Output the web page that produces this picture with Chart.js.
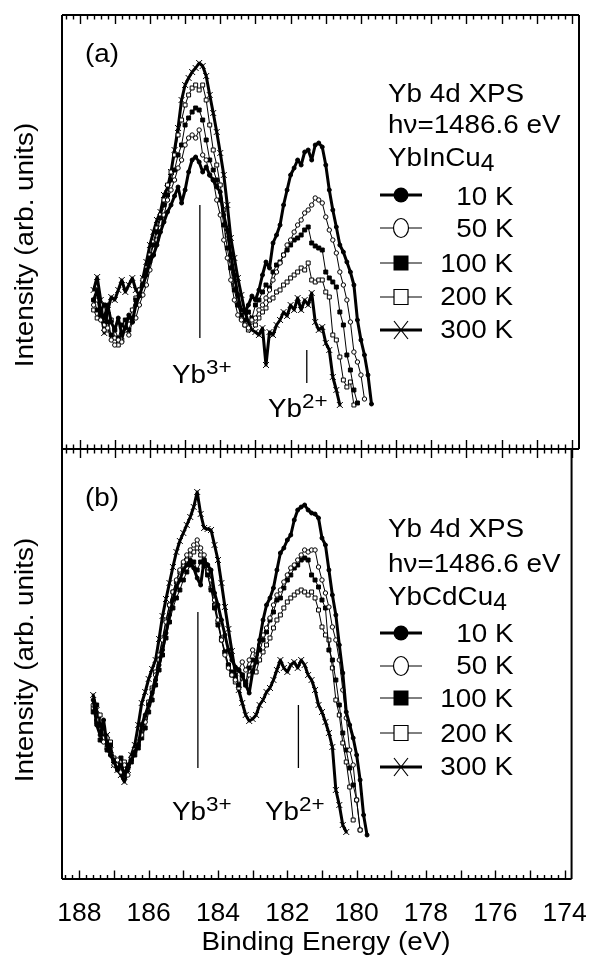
<!DOCTYPE html>
<html><head><meta charset="utf-8">
<script src="https://cdn.jsdelivr.net/npm/chart.js@4.4.0/dist/chart.umd.min.js"></script>
<style>
html,body{margin:0;padding:0;background:#fff;}
#wrap{position:relative;width:598px;height:956px;overflow:hidden;font-family:"Liberation Sans",Arial,Helvetica,sans-serif;color:#000;}
canvas{position:absolute;left:0;top:0;}
.t{position:absolute;font-size:26px;line-height:26px;white-space:nowrap;}
.t sup{font-size:21px;line-height:0;vertical-align:0;position:relative;top:-9px;}
.t sub{font-size:23px;line-height:0;vertical-align:0;position:relative;top:5px;}
</style></head><body>
<div id="wrap">
<canvas id="chartA" width="598" height="956"></canvas>
<canvas id="chartB" width="598" height="956"></canvas>
</div>
<script>
// ---------------- data ----------------
const energy = [187.6,187.5,187.4,187.3,187.2,187.1,187.0,186.9,186.8,186.7,
186.6,186.5,186.4,186.3,186.2,186.1,186.0,185.9,185.8,185.7,
185.6,185.5,185.4,185.3,185.2,185.1,185.0,184.9,184.8,184.7,
184.6,184.5,184.4,184.3,184.2,184.1,184.0,183.9,183.8,183.7,
183.6,183.5,183.4,183.3,183.2,183.1,183.0,182.9,182.8,182.7,
182.6,182.5,182.4,182.3,182.2,182.1,182.0,181.9,181.8,181.7,
181.6,181.5,181.4,181.3,181.2,181.1,181.0,180.9,180.8,180.7,
180.6,180.5,180.4,180.3,180.2,180.1,180.0,179.9,179.8,179.7];
const temps = ['10 K','50 K','100 K','200 K','300 K'];
const xTickLabels = [188,186,184,182,180,178,176,174];
const xTitle = 'Binding Energy (eV)';
const yTitle = 'Intensity (arb. units)';

// (a) YbInCu4
const a10 = [14.9,15.9,13.7,13.1,14.4,12.7,11.9,13.1,11.4,12.1,
13.4,12.7,14.4,15.3,16.4,17.4,18.7,19.4,20.4,21.7,
22.7,23.7,24.4,25.3,26.2,24.6,25.9,27.7,28.9,29.2,
28.7,27.7,28.2,27.4,26.9,26.2,25.7,23.4,21.9,19.4,
17.4,15.4,13.9,13.7,14.4,15.3,14.9,15.9,17.4,18.7,
18.1,20.6,21.4,22.4,24.4,25.9,27.4,28.1,28.9,28.4,
29.7,29.9,28.9,30.4,30.6,30.2,28.4,25.9,23.9,22.2,
20.4,19.7,18.7,17.7,16.4,12.9,10.9,9.4,7.4,4.5];
const a50 = [14.4,14.9,12.9,11.9,12.1,10.9,10.4,10.9,10.7,11.9,
11.4,12.7,13.1,14.4,15.4,16.4,17.9,19.4,20.9,22.1,
23.4,24.9,25.9,26.9,28.1,28.9,30.4,31.1,31.4,31.1,
31.9,29.4,28.9,27.4,26.9,24.9,23.4,20.9,19.1,16.9,
14.9,13.4,12.9,12.4,12.1,12.9,13.1,13.9,14.4,15.1,
15.9,16.9,17.7,18.6,19.4,20.4,20.9,21.7,22.4,22.9,
23.6,23.9,24.4,25.1,24.9,24.6,23.2,21.9,20.9,19.6,
17.7,16.4,14.9,12.7,9.7,8.7,7.4,5.0];
const a100 = [14.9,13.9,13.4,14.4,12.7,11.4,11.9,11.1,12.4,12.9,
11.9,13.1,14.9,15.4,16.4,17.9,19.1,20.4,21.7,23.1,
24.4,25.4,26.9,27.9,29.4,30.4,32.4,33.1,33.7,34.1,
33.9,32.9,30.9,28.9,27.9,26.9,24.9,22.4,20.1,18.1,
15.9,14.4,13.4,12.9,13.7,13.1,14.4,14.9,15.7,16.4,
16.1,17.7,18.4,18.7,19.4,19.9,20.4,20.9,21.1,21.4,
21.9,22.2,20.6,20.3,20.1,19.9,17.7,17.1,16.7,16.2,
13.7,12.4,9.4,7.9,5.9,4.6];
const a200 = [13.9,13.1,14.4,12.4,11.9,12.9,11.1,10.4,10.9,12.1,
12.9,13.9,15.1,15.9,16.9,18.1,19.4,20.7,22.1,23.4,
24.9,26.4,27.7,29.4,31.4,32.9,34.4,35.4,36.1,36.4,
35.9,36.4,34.9,32.4,29.9,28.4,26.4,23.9,21.4,18.9,
16.4,14.4,13.1,12.4,11.9,12.7,12.4,13.1,13.7,14.1,
14.9,15.1,15.7,15.9,16.4,16.7,17.1,17.4,17.7,18.1,
17.9,18.6,16.9,16.7,16.9,16.9,15.7,15.2,11.4,10.9,
9.2,6.9,6.2,6.7,4.4];
const a300 = [15.9,17.2,14.9,11.6,13.9,15.2,14.9,15.9,16.9,15.7,
16.4,17.1,15.9,15.4,17.1,18.7,20.4,21.7,22.9,23.7,
25.4,26.1,27.7,29.9,32.1,34.9,36.4,37.1,37.7,38.1,
38.6,38.3,37.3,35.4,33.6,31.7,29.6,27.4,24.4,21.1,
19.1,17.1,15.4,13.7,12.7,11.9,11.7,11.4,12.1,8.4,
11.7,11.4,12.4,12.9,13.7,13.3,14.4,13.9,15.1,13.9,
14.9,14.4,15.6,12.7,11.9,12.2,10.6,9.9,7.2,5.9,
4.4];

// (b) YbCdCu4
const b10 = [17.9,15.4,14.4,15.9,13.4,12.4,11.7,10.9,11.4,10.4,
11.1,11.9,12.7,13.4,15.4,16.4,17.4,18.6,19.9,21.4,
22.9,24.6,26.4,27.9,29.2,29.9,30.9,31.4,31.9,31.1,
30.1,29.4,31.9,31.4,30.9,28.6,27.4,25.9,24.4,22.9,
21.9,21.2,20.9,20.4,19.4,18.6,20.7,21.9,23.9,25.9,
27.4,28.1,29.1,30.9,32.6,33.1,33.9,34.4,35.9,36.9,
37.2,37.4,36.9,36.6,36.5,36.1,34.1,33.4,30.9,28.4,
26.4,23.4,20.6,16.7,15.4,14.1,12.4,9.9,6.4,4.4];
const b50 = [17.4,15.9,14.9,13.7,14.1,12.4,11.4,11.9,10.7,11.4,
10.4,11.9,12.7,13.4,14.4,15.7,17.4,18.9,20.4,21.9,
23.9,25.7,27.4,28.7,29.9,30.9,31.7,32.4,32.9,33.4,
33.9,33.1,32.4,31.4,29.9,27.9,25.9,23.9,22.4,21.1,
20.4,19.9,20.9,21.7,20.9,21.9,22.9,22.4,23.4,24.4,
25.1,26.1,27.4,28.4,28.9,29.7,30.4,31.1,31.4,31.9,
32.4,32.9,32.7,32.9,32.9,31.2,29.9,28.6,27.2,25.2,
23.9,21.9,18.9,16.1,12.9,11.4,7.9,4.9];
const b100 = [16.7,17.4,13.9,15.1,12.9,13.4,11.9,11.1,12.1,10.7,
11.4,11.7,12.4,13.1,14.1,15.1,16.7,17.9,19.4,20.9,
22.4,24.1,25.7,27.1,28.1,28.9,29.9,30.7,31.4,31.7,
30.9,31.7,31.3,30.4,28.9,27.1,25.4,23.9,22.7,21.4,
20.7,20.1,19.4,20.4,19.7,21.1,21.9,21.7,22.9,23.9,
24.7,25.9,26.7,27.9,28.1,29.1,29.9,30.4,31.1,31.4,
31.9,32.1,31.9,30.4,29.9,29.2,27.9,27.1,22.9,21.9,
19.9,17.4,14.6,12.9,11.1,9.4,7.9,4.9];
const b200 = [17.1,15.7,16.4,14.1,13.1,13.7,12.1,11.4,10.9,11.7,
11.1,12.1,12.9,13.7,14.7,16.1,17.7,19.1,20.7,22.4,
24.1,25.9,27.4,28.7,29.7,30.7,31.4,31.9,32.4,32.7,
33.1,32.4,31.9,30.7,29.1,27.4,25.7,24.1,22.7,21.4,
20.4,19.7,19.1,20.1,19.4,20.4,21.1,20.7,21.9,22.7,
23.4,24.1,25.1,25.9,26.4,27.1,27.7,28.1,28.4,28.7,
28.9,28.7,28.4,28.7,28.1,26.9,25.2,24.4,23.9,21.1,
17.9,16.4,13.6,11.7,9.2,5.9];
const b300 = [18.4,16.9,15.4,13.9,14.4,12.9,11.4,10.9,10.4,9.7,
10.9,12.4,13.4,15.4,17.6,18.7,20.0,21.0,21.9,24.0,
26.3,28.0,29.6,31.2,32.7,33.8,34.6,35.4,36.2,37.2,
38.7,36.5,35.1,35.0,34.9,33.4,31.9,29.6,27.2,25.0,
22.8,20.6,18.9,17.6,16.4,15.8,16.0,16.4,17.4,17.9,
18.7,19.1,19.9,20.9,21.9,21.1,20.7,21.4,21.7,21.1,
21.9,21.4,20.4,19.9,18.9,17.4,16.7,15.7,14.6,13.2,
8.9,7.4,5.4,4.7];

// peak marker lines [energy, low, high]
const peakLinesA = [[184.58, 11.1, 24.4], [181.54, 6.6, 9.9]];
const peakLinesB = [[184.58, 11.1, 26.7], [181.68, 11.1, 17.4]];

// ---------------- styling ----------------
const FONT = '"Liberation Sans", Arial, Helvetica, sans-serif';
const seriesStyle = [
  {bw:3,   ps:'circle',   r:2,   fill:'#000'},
  {bw:1,   ps:'circle',   r:2.2, fill:'#fff'},
  {bw:1,   ps:'rect',     r:2.8, fill:'#000'},
  {bw:1,   ps:'rect',     r:2.8, fill:'#fff'},
  {bw:3,   ps:'crossRot', r:4.2, fill:'#000'}
];

function toPts(vals){ return vals.map((v,i)=>({x:energy[i], y:v})); }

function makeDatasets(series, peaks){
  const ds = series.map((vals,k)=>({
    label: temps[k],
    data: toPts(vals),
    borderColor:'#000', borderWidth: seriesStyle[k].bw,
    borderJoinStyle:'round', borderCapStyle:'round',
    pointStyle: seriesStyle[k].ps, pointRadius: seriesStyle[k].r,
    pointBackgroundColor: seriesStyle[k].fill, pointBorderColor:'#000', pointBorderWidth:1,
    pointHoverRadius: seriesStyle[k].r, tension:0, fill:false
  }));
  peaks.forEach(p=>ds.push({
    label:'peak', data:[{x:p[0],y:p[1]},{x:p[0],y:p[2]}],
    borderColor:'#000', borderWidth:1.3, pointRadius:0, fill:false
  }));
  return ds;
}

// frame + ticks + legend-symbol plugin
const framePlugin = {
  id:'frame',
  afterDraw(chart, args, o){
    const ctx = chart.ctx, ca = chart.chartArea, xs = chart.scales.x;
    ctx.save();
    ctx.strokeStyle = '#000';
    ctx.lineWidth = 2;
    ctx.beginPath();
    ctx.moveTo(ca.left, ca.top); ctx.lineTo(ca.left, ca.bottom);
    ctx.moveTo(ca.right, ca.top); ctx.lineTo(ca.right, ca.bottom);
    if (o.top) { ctx.moveTo(ca.left, ca.top); ctx.lineTo(ca.right, ca.top); }
    ctx.moveTo(ca.left, ca.bottom); ctx.lineTo(ca.right, ca.bottom);
    ctx.stroke();
    ctx.lineWidth = 1.4;
    ctx.beginPath();
    for (let i = 0; i <= 72; i++) {
      const v = 174 + i * 0.2;
      const major = (i % 5 === 0);
      const px = Math.round(xs.getPixelForValue(v)) + 0.5;
      const L = major ? 9 : 4.5;
      if (o.top) { ctx.moveTo(px, ca.top); ctx.lineTo(px, ca.top + L); }
      if (o.mid) { ctx.moveTo(px, ca.bottom - L); ctx.lineTo(px, ca.bottom + L); }
      if (o.bottom) { ctx.moveTo(px, ca.bottom); ctx.lineTo(px, ca.bottom - L + 0.5); }
    }
    ctx.stroke();
    const lg = o.legend;
    lg.rows.forEach((y,k)=>{
      const st = seriesStyle[k];
      ctx.lineWidth = st.bw;
      ctx.beginPath(); ctx.moveTo(lg.x1, y); ctx.lineTo(lg.x2, y); ctx.stroke();
      ctx.lineWidth = 1.2;
      const x = lg.xc;
      ctx.fillStyle = st.fill;
      ctx.beginPath();
      if (k === 0) { ctx.arc(x, y, 7.5, 0, 2*Math.PI); ctx.fill(); }
      else if (k === 1) { ctx.ellipse(x, y, 7.5, 9.5, 0, 0, 2*Math.PI); ctx.fill(); ctx.stroke(); }
      else if (k === 2) { ctx.rect(x-7.5, y-7.5, 15, 15); ctx.fill(); }
      else if (k === 3) { ctx.rect(x-7, y-7.5, 14, 15); ctx.fill(); ctx.stroke(); }
      else { ctx.moveTo(x-7, y-9); ctx.lineTo(x+7, y+9); ctx.moveTo(x-7, y+9); ctx.lineTo(x+7, y-9); ctx.stroke(); }
    });
    ctx.restore();
  }
};

function yScale(maxV){
  return { type:'linear', min:0, max:maxV, display:false };
}

function baseX(show){
  return {
    type:'linear', min:173.8, max:188.5, reverse:true, display:show,
    grid:{display:false}, border:{display:false},
    ticks:{display:show, color:'#000', font:{family:FONT, size:26.5}, padding:11, maxRotation:0, autoSkip:false},
    afterBuildTicks(s){ s.ticks = xTickLabels.map(v=>({value:v})); },
    title:{display:false},
    afterFit(s){ if (show) s.height = 77; }
  };
}

const common = { type:'line', plugins:[framePlugin] };

new Chart(document.getElementById('chartA'), {
  ...common,
  data:{datasets: makeDatasets([a10,a50,a100,a200,a300], peakLinesA)},
  options:{
    responsive:false, animation:false, events:[],
    layout:{padding:{top:15, bottom:507, left:62, right:19}},
    scales:{ x: baseX(false), y: yScale(43.4) },
    plugins:{ legend:{display:false}, tooltip:{enabled:false},
      frame:{top:true, mid:true, bottom:false, legend:{x1:380, x2:422, xc:401, rows:[195,228,263,297,330]}} }
  }
});

new Chart(document.getElementById('chartB'), {
  ...common,
  data:{datasets: makeDatasets([b10,b50,b100,b200,b300], peakLinesB)},
  options:{
    responsive:false, animation:false, events:[],
    layout:{padding:{top:449, bottom:0, left:62, right:19}},
    scales:{ x: baseX(true), y: yScale(43.0) },
    plugins:{ legend:{display:false}, tooltip:{enabled:false},
      frame:{top:false, mid:false, bottom:true, legend:{x1:380, x2:422, xc:401, rows:[633,666,698,733,767]}} }
  }
});

// ---------------- text overlays ----------------
const SX = 1.07;        // horizontal stretch of the original lettering
const FS = 26;          // font size
const texts = [
  ['(a)', 85, 62, 'l'],
  ['Yb 4d XPS', 388, 102, 'l'],
  ['h\u03bd=1486.6 eV', 388, 133, 'l'],
  ['YbInCu<sub>4</sub>', 388, 166, 'l'],
  ['10 K', 513, 205, 'r'], ['50 K', 513, 237, 'r'], ['100 K', 513, 272, 'r'],
  ['200 K', 513, 305, 'r'], ['300 K', 513, 338, 'r'],
  ['Yb<sup>3+</sup>', 172, 383, 'l'],
  ['Yb<sup>2+</sup>', 268, 417, 'l'],
  ['(b)', 85, 506, 'l'],
  ['Yb 4d XPS', 388, 537, 'l'],
  ['h\u03bd=1486.6 eV', 388, 572, 'l'],
  ['YbCdCu<sub>4</sub>', 388, 605, 'l'],
  ['10 K', 513, 642, 'r'], ['50 K', 513, 674, 'r'], ['100 K', 513, 707, 'r'],
  ['200 K', 513, 742, 'r'], ['300 K', 513, 775, 'r'],
  ['Yb<sup>3+</sup>', 172, 820, 'l'],
  ['Yb<sup>2+</sup>', 265, 820, 'l'],
  [xTitle, 326, 950, 'c']
];
const wrap = document.getElementById('wrap');
const BASE = 0.8465 * FS;
texts.forEach(([h,x,b,al])=>{
  const d = document.createElement('div');
  d.className = 't';
  d.innerHTML = h;
  d.style.top = (b - BASE) + 'px';
  if (al === 'l') { d.style.left = x + 'px'; d.style.transformOrigin = '0 0'; d.style.transform = 'scaleX(' + SX + ')'; }
  else if (al === 'r') { d.style.right = (598 - x) + 'px'; d.style.transformOrigin = '100% 0'; d.style.transform = 'scaleX(' + SX + ')'; }
  else { d.style.left = x + 'px'; d.style.transform = 'translateX(-50%) scaleX(' + SX + ')'; }
  wrap.appendChild(d);
});
// rotated y-axis titles: [centre x, centre y]
[[24, 245], [24, 660]].forEach(([cx, cy])=>{
  const d = document.createElement('div');
  d.className = 't';
  d.textContent = yTitle;
  d.style.left = cx + 'px';
  d.style.top = cy + 'px';
  d.style.transform = 'translate(-50%,-50%) rotate(-90deg) scaleX(' + SX + ')';
  wrap.appendChild(d);
});
</script>
</body></html>
